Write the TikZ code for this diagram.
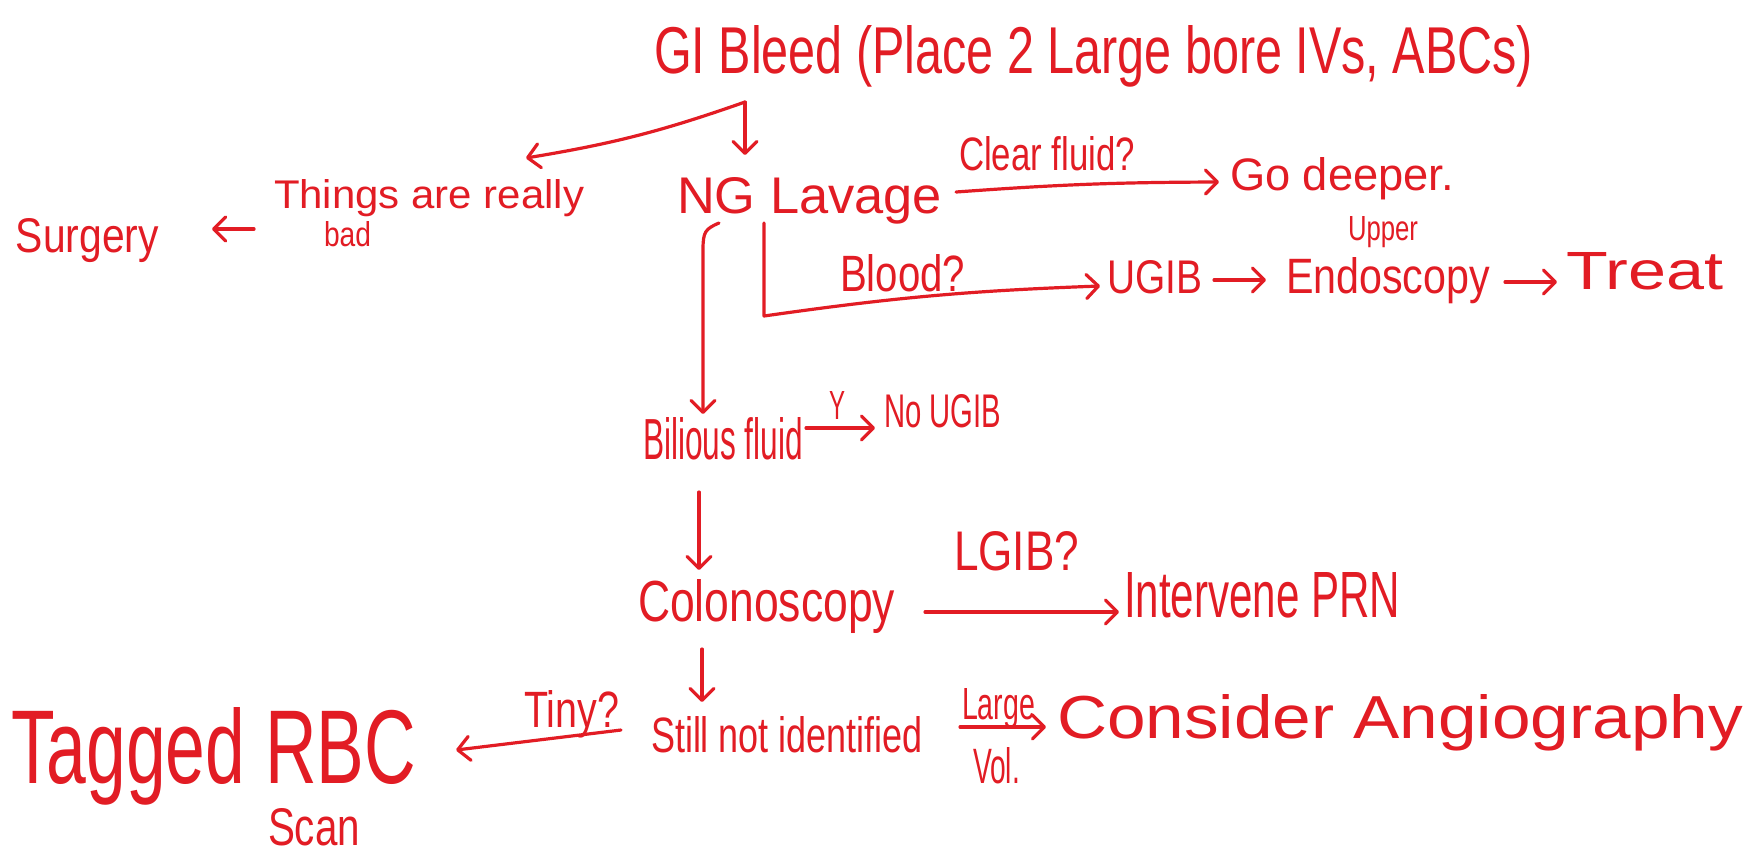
\documentclass[tikz,border=0pt]{standalone}
\usepackage{fontspec}
\setmainfont{Liberation Sans}
\usetikzlibrary{arrows.meta,calc}
\definecolor{ink}{RGB}{226,28,36}
\newlength{\px}\setlength{\px}{0.5pt}
\newcommand{\hw}[3]{\resizebox{#1\px}{#2\px}{#3}}
\begin{document}
\begin{tikzpicture}[x=0.5pt,y=-0.5pt,
  txt/.style={inner sep=0pt, outer sep=0pt, anchor=base west, text=ink},
  conn/.style={draw=ink, line width=1.6pt, line cap=round, line join=round,
    -{Straight Barb[round,length=6pt,width=12pt]}}]
\fill[white] (0,0) rectangle (1754,859);
\useasboundingbox (0,0) rectangle (1754,859);

% nodes
\node[txt] (title) at (654,73) {\hw{879}{48}{GI Bleed (Place 2 Large bore IVs, ABCs)}};
\node[txt] (things) at (274,208) {\hw{310}{29}{Things are really}};
\node[txt] (bad) at (324,246) {\hw{47}{25}{bad}};
\node[txt] (surgery) at (16,252) {\hw{143}{34}{Surgery}};
\node[txt] (ng) at (677,213) {\hw{265}{36}{NG Lavage}};
\node[txt] (clear) at (959,170) {\hw{176}{34}{Clear fluid?}};
\node[txt] (go) at (1230,190) {\hw{224}{33}{Go deeper.}};
\node[txt] (blood) at (840,291) {\hw{125}{37}{Blood?}};
\node[txt] (ugib) at (1107,293) {\hw{95}{33}{UGIB}};
\node[txt] (upper) at (1348,240) {\hw{70}{24}{Upper}};
\node[txt] (endo) at (1286,293) {\hw{204}{36}{Endoscopy}};
\node[txt] (treat) at (1566,289) {\hw{157}{37}{Treat}};
\node[txt] (bilious) at (643,459) {\hw{160}{42}{Bilious fluid}};
\node[txt] (yes) at (829,419) {\hw{16}{28}{Y}};
\node[txt] (noug) at (884,427) {\hw{117}{33}{No UGIB}};
\node[txt] (colon) at (638,621) {\hw{257}{42}{Colonoscopy}};
\node[txt] (lgib) at (954,570) {\hw{125}{39}{LGIB?}};
\node[txt] (interv) at (1124,617) {\hw{276}{45}{Intervene PRN}};
\node[txt] (still) at (651,752) {\hw{272}{36}{Still not identified}};
\node[txt] (tiny) at (524,727) {\hw{95}{37}{Tiny?}};
\node[txt] (tagged) at (11,783) {\hw{405}{76}{Tagged RBC}};
\node[txt] (scan) at (268,845) {\hw{92}{37}{Scan}};
\node[txt] (large) at (962,719) {\hw{73}{31}{Large}};
\node[txt] (vol) at (973,783) {\hw{47}{36}{Vol.}};
\node[txt] (consider) at (1057,738) {\hw{686}{44}{Consider Angiography}};

% connectors
\draw[conn] ([shift={(91,29)}]title.base west) -- ([shift={(68,-58)}]ng.base west);
\draw[conn] ([shift={(91,29)}]title.base west) to[bend left=5] ([shift={(252,-50)}]things.base west);
\draw[conn] ([shift={(-20,21)}]things.base west) -- ([shift={(53,-23)}]surgery.base east);
\draw[conn] ([shift={(14,-21)}]ng.base east) to[bend left=2] ([shift={(-11,-8)}]go.base west);
\draw[conn] ([shift={(42,10)}]ng.base west) .. controls +(-14,6) and +(0,-18) .. ([shift={(60,-209)}]bilious.base west) -- ([shift={(60,-45)}]bilious.base west);
\draw[conn] ([shift={(87,10)}]ng.base west) -- ([shift={(87,103)}]ng.base west) to[bend left=3] ([shift={(-7,-7)}]ugib.base west);
\draw[conn] ([shift={(12,-13)}]ugib.base east) -- ([shift={(-20,-13)}]endo.base west);
\draw[conn] ([shift={(15,-11)}]endo.base east) -- ([shift={(-9,-7)}]treat.base west);
\draw[conn] ([shift={(3,-31)}]bilious.base east) -- ([shift={(-9,1)}]noug.base west);
\draw[conn] ([shift={(56,33)}]bilious.base west) -- ([shift={(61,-51)}]colon.base west);
\draw[conn] ([shift={(30,-9)}]colon.base east) -- ([shift={(-5,-5)}]interv.base west);
\draw[conn] ([shift={(64,28)}]colon.base west) -- ([shift={(51,-50)}]still.base west);
\draw[conn] ([shift={(-30,-22)}]still.base west) -- ([shift={(40,-33)}]tagged.base east);
\draw[conn] ([shift={(37,-25)}]still.base east) -- ([shift={(-11,-11)}]consider.base west);
\end{tikzpicture}
\end{document}
